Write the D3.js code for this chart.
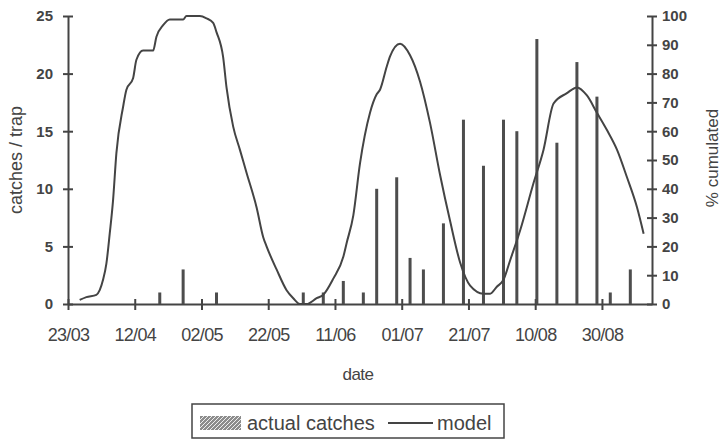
<!DOCTYPE html>
<html>
<head>
<meta charset="utf-8">
<script src="https://cdn.jsdelivr.net/npm/d3@7"></script>
<style>
  body { margin: 0; background: #fff; }
  text { font-family: "Liberation Sans", Arial, sans-serif; fill: #444; }
</style>
</head>
<body>
<script>
// actual catches (catches / trap)
const catchDates = ["19/04", "26/04", "06/05", "01/06", "07/06", "13/06", "19/06", "23/06", "29/06", "03/07", "07/07",
  "13/07", "19/07", "25/07", "31/07", "04/08", "10/08", "16/08", "22/08", "28/08", "01/09", "07/09"];
const catchValues = [1, 3, 1, 1, 1, 2, 1, 10, 11, 4, 3, 7, 16, 12, 16, 15, 23, 14, 21, 18, 1, 3];

// model curve, read on the catches / trap scale
const modelDates = ["26/03", "28/03", "31/03", "01/04", "02/04", "03/04", "04/04", "05/04", "06/04", "08/04", "09/04",
  "11/04", "12/04", "14/04", "17/04", "18/04", "20/04", "22/04", "26/04", "27/04", "01/05", "03/05", "05/05", "06/05",
  "08/05", "09/05", "11/05", "13/05", "15/05", "18/05", "20/05", "21/05", "24/05", "27/05", "29/05", "31/05", "02/06",
  "05/06", "07/06", "10/06", "13/06", "14/06", "16/06", "18/06", "21/06", "23/06", "24/06", "26/06", "27/06", "30/06",
  "03/07", "06/07", "09/07", "12/07", "15/07", "18/07", "21/07", "25/07", "27/07", "29/07", "31/07", "02/08", "05/08",
  "09/08", "12/08", "15/08", "19/08", "22/08", "25/08", "28/08", "31/08", "03/09", "06/09", "09/09", "11/09"];
const modelValues = [0.35, 0.6, 0.8, 1.2, 2.1, 3.5, 6.1, 9.0, 13.1, 17.1, 18.6,
  19.6, 21.2, 22.0, 22.0, 23.2, 24.2, 24.7, 24.7, 25, 25, 24.8, 24.4, 23.6,
  21.4, 18.8, 15.4, 13.4, 11.4, 8.4, 5.8, 5.0, 3.0, 1.2, 0.5, 0, 0,
  0.5, 0.8, 2.2, 4.1, 5.3, 7.7, 12.2, 16.6, 18.2, 18.6, 20.6, 21.5, 22.6,
  21.6, 19.3, 15.7, 11.2, 7.2, 3.6, 1.6, 0.9, 0.9, 1.5, 2.1, 3.8, 6.4,
  10.5, 13.4, 17.4, 18.3, 18.8, 18.1, 16.6, 15.1, 13.4, 11.0, 8.4, 6.1];

const dateTicks = ["23/03", "12/04", "02/05", "22/05", "11/06", "01/07", "21/07", "10/08", "30/08"];
const dateRange = ["23/03", "14/09"];
const leftTicks = [0, 5, 10, 15, 20, 25];
const rightTicks = [0, 10, 20, 30, 40, 50, 60, 70, 80, 90, 100];

const width = 721;
const height = 440;
const ink = "#444";

const parse = d3.timeParse("%d/%m");

const svg = d3.select("body").append("svg").attr("width", width).attr("height", height);

const xScale = d3.scaleTime()
  .domain(dateRange.map(parse))
  .range([68, 652]);
const yLeft = d3.scaleLinear().domain([0, 25]).range([304, 16]);
const yRight = d3.scaleLinear().domain([0, 100]).range([304, 16]);

// columns sit in the middle of their day
const halfDay = (xScale(parse("24/03")) - xScale(parse("23/03"))) / 2;

/** axes, with ticks that cross the line */
const gx = svg.append("g")
  .attr("transform", "translate(0," + yLeft(0) + ")")
  .call(d3.axisBottom(xScale).tickValues(dateTicks.map(parse)).tickFormat(d3.timeFormat("%d/%m")).tickSizeOuter(0));
gx.selectAll(".tick line").attr("y1", -5).attr("y2", 6);
gx.selectAll(".tick text").attr("y", 24).style("font-size", "18px").style("letter-spacing", "-0.7px");

const gl = svg.append("g")
  .attr("transform", "translate(68,0)")
  .call(d3.axisLeft(yLeft).tickValues(leftTicks).tickSizeOuter(0));
gl.selectAll(".tick line").attr("x1", -5).attr("x2", 5);
gl.selectAll(".tick text").attr("x", -15).style("font-size", "15px").style("font-weight", "bold");

const gr = svg.append("g")
  .attr("transform", "translate(652,0)")
  .call(d3.axisRight(yRight).tickValues(rightTicks).tickSizeOuter(0));
gr.selectAll(".tick line").attr("x1", -5).attr("x2", 5);
gr.selectAll(".tick text").attr("x", 10).style("font-size", "15px").style("font-weight", "bold");

svg.selectAll(".domain").attr("stroke", ink).attr("stroke-width", 2);
svg.selectAll(".tick line").attr("stroke", ink).attr("stroke-width", 2);
svg.selectAll(".tick text").attr("fill", ink).style("font-family", '"Liberation Sans", Arial, sans-serif');

/** columns */
svg.append("g").selectAll("rect")
  .data(catchValues)
  .join("rect")
  .attr("x", (d, i) => xScale(parse(catchDates[i])) + halfDay - 1.5)
  .attr("width", 3)
  .attr("y", d => yLeft(d))
  .attr("height", d => yLeft(0) - yLeft(d))
  .attr("fill", "#4d4d4d");

/** model line */
const line = d3.line()
  .x((d, i) => xScale(parse(modelDates[i])) + halfDay)
  .y(d => yLeft(d))
  .curve(d3.curveMonotoneX);
svg.append("path")
  .datum(modelValues)
  .attr("d", line)
  .attr("fill", "none")
  .attr("stroke", ink)
  .attr("stroke-width", 2);

/** axis titles */
svg.append("text")
  .attr("transform", "translate(22,160) rotate(-90)")
  .attr("text-anchor", "middle")
  .style("font-size", "18px")
  .text("catches / trap");
svg.append("text")
  .attr("transform", "translate(718,158) rotate(-90)")
  .attr("text-anchor", "middle")
  .style("font-size", "17px")
  .text("% cumulated");
svg.append("text")
  .attr("x", 358).attr("y", 380)
  .attr("text-anchor", "middle")
  .style("font-size", "17px")
  .style("letter-spacing", "-0.5px")
  .text("date");

/** legend */
const defs = svg.append("defs");
const pat = defs.append("pattern")
  .attr("id", "hatch")
  .attr("patternUnits", "userSpaceOnUse")
  .attr("width", 4).attr("height", 4);
pat.append("rect").attr("width", 4).attr("height", 4).attr("fill", "#8c8c8c");
pat.append("path").attr("d", "M0,4 L4,0").attr("stroke", "#eee").attr("stroke-width", 1);

const legend = svg.append("g");
legend.append("rect")
  .attr("x", 192).attr("y", 404).attr("width", 312).attr("height", 34)
  .attr("fill", "none").attr("stroke", ink).attr("stroke-width", 1.5);
legend.append("rect")
  .attr("x", 200).attr("y", 416).attr("width", 41).attr("height", 14)
  .attr("fill", "url(#hatch)");
legend.append("text")
  .attr("x", 247).attr("y", 430)
  .style("font-size", "20px")
  .text("actual catches");
legend.append("line")
  .attr("x1", 388).attr("x2", 433).attr("y1", 423).attr("y2", 423)
  .attr("stroke", ink).attr("stroke-width", 2);
legend.append("text")
  .attr("x", 437).attr("y", 430)
  .style("font-size", "20px")
  .text("model");
</script>
</body>
</html>
